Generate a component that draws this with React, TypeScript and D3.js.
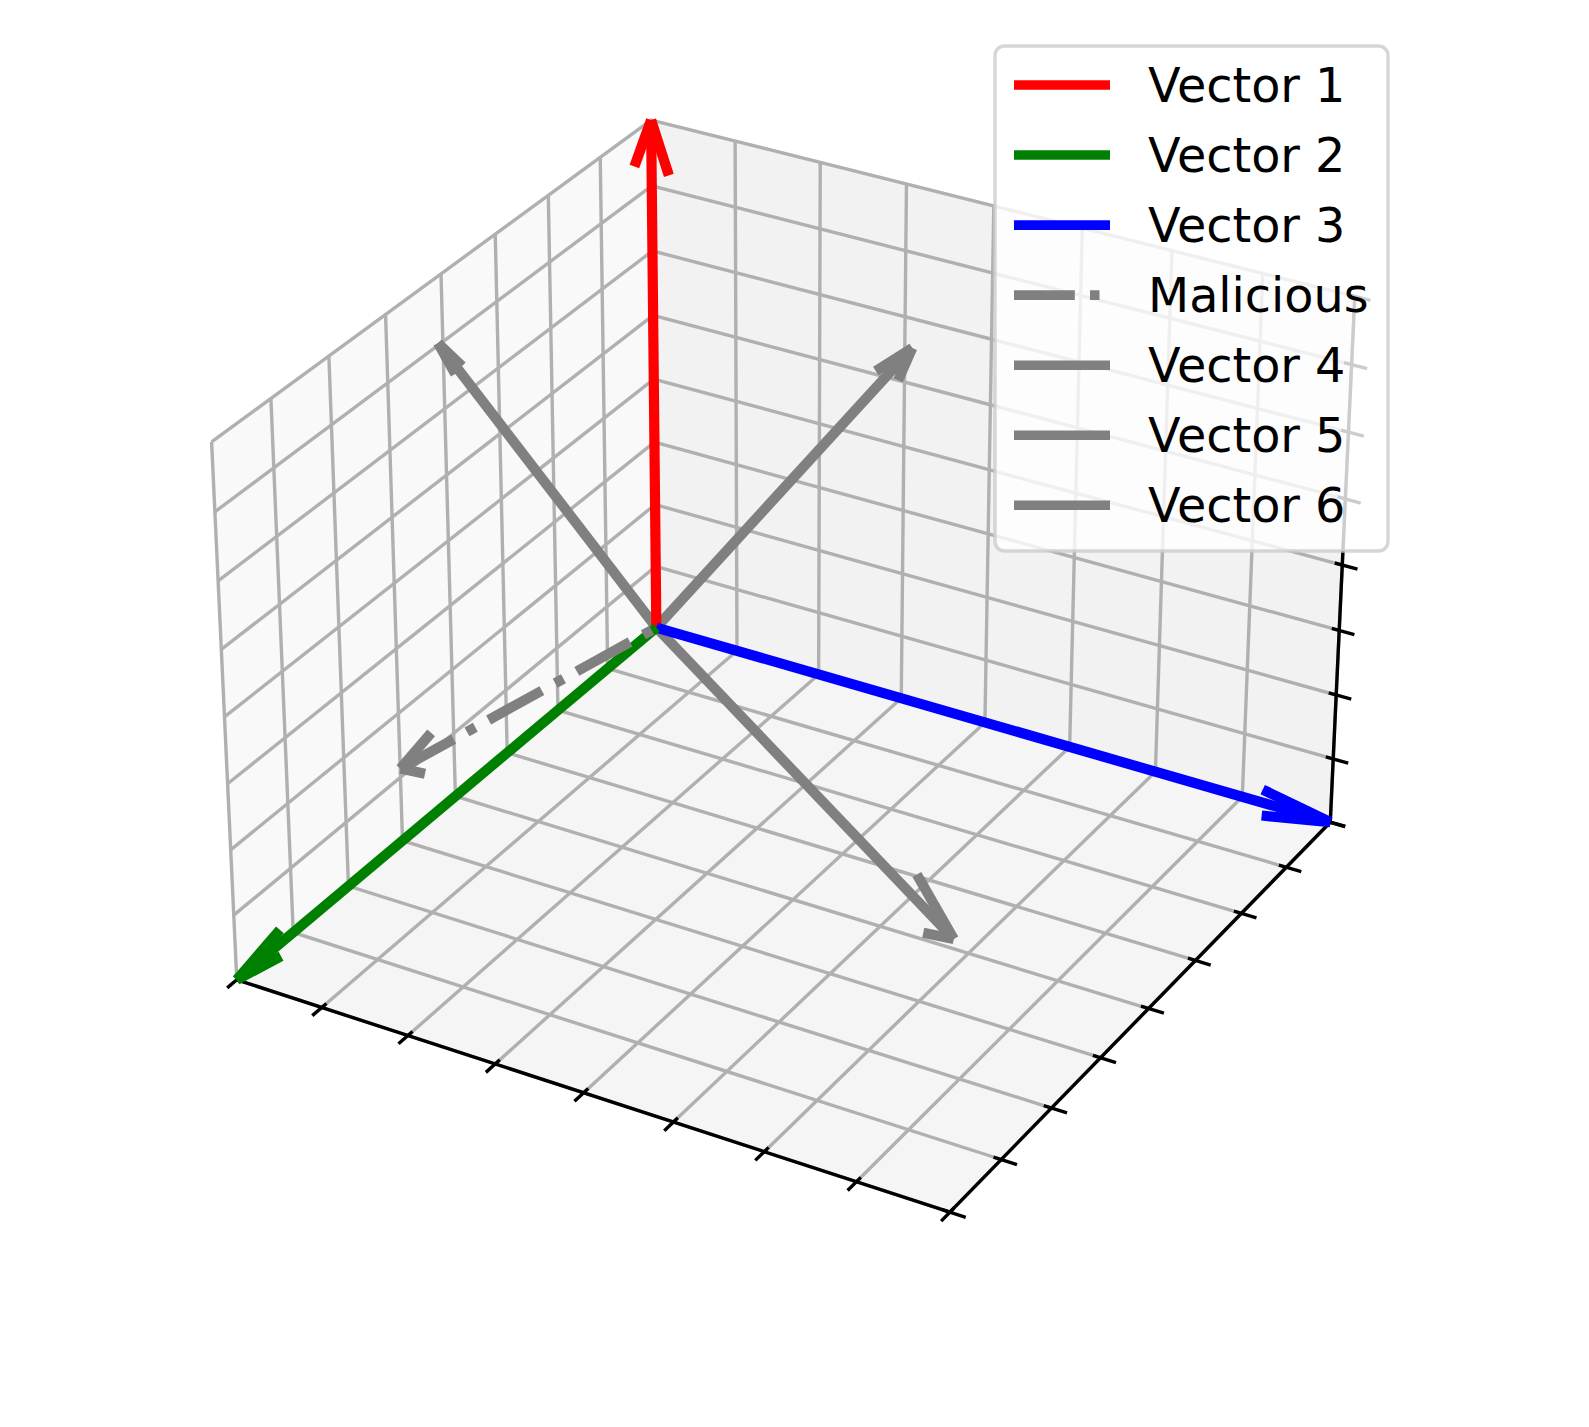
import React from "react";
import * as d3 from "d3";

const WIDTH = 1589;
const HEIGHT = 1427;

// Axis ticks shared by all three (normalised) axes
const xTicks = [0, 0.125, 0.25, 0.375, 0.5, 0.625, 0.75, 0.875, 1];
const yTicks = [0, 0.125, 0.25, 0.375, 0.5, 0.625, 0.75, 0.875, 1];
const zTicks = [0, 0.125, 0.25, 0.375, 0.5, 0.625, 0.75, 0.875, 1];

// Vector data (tip in 3D, all tails at origin)
const vectorNames = ["Vector 1", "Vector 2", "Vector 3", "Malicious", "Vector 4", "Vector 5", "Vector 6"];
const vectorX = [0, 0, 1, 0.269, -0.448, 0.297, 1.055];
const vectorY = [0, 1, 0, 1.026, -0.17, -0.161, 1.102];
const vectorZ = [1, 0, 0, 0.529, 0.314, 0.566, 0.6];
const vectorColors = ["#ff0000", "#008000", "#0000ff", "#808080", "#808080", "#808080", "#808080"];
const vectorDashed = [false, false, false, true, false, false, false];
const drawOrder = [4, 5, 6, 0, 2, 1, 3];

// Camera calibration: world cube corner -> image location
const cameraWorld: number[][] = [[0, 0, 0], [0, 0, 1], [0, 1, 0], [0, 1, 1], [1, 1, 0], [1, 0, 0], [1, 0, 1]];
const cameraImage: number[][] = [[656.7, 626.7], [650.8, 120.5], [236.6, 980.3], [211.7, 441.8], [950, 1211.7], [1330, 823], [1355, 296]];

function solve(A: number[][], b: number[]): number[] {
  const n = b.length;
  const M = A.map((r, i) => [...r, b[i]]);
  for (let c = 0; c < n; c++) {
    let p = c;
    for (let r = c + 1; r < n; r++) if (Math.abs(M[r][c]) > Math.abs(M[p][c])) p = r;
    [M[c], M[p]] = [M[p], M[c]];
    for (let r = 0; r < n; r++) {
      if (r === c) continue;
      const f = M[r][c] / M[c][c];
      for (let k = c; k <= n; k++) M[r][k] -= f * M[c][k];
    }
  }
  return M.map((r, i) => r[n] / r[i]);
}

function fitCamera(): number[] {
  const rows: number[][] = [];
  const rhs: number[] = [];
  cameraWorld.forEach(([x, y, z], i) => {
    const [u, v] = cameraImage[i];
    rows.push([x, y, z, 1, 0, 0, 0, 0, -u * x, -u * y, -u * z]);
    rhs.push(u);
    rows.push([0, 0, 0, 0, x, y, z, 1, -v * x, -v * y, -v * z]);
    rhs.push(v);
  });
  const AtA = d3.range(11).map((i) => d3.range(11).map((j) => d3.sum(rows, (r) => r[i] * r[j])));
  const Atb = d3.range(11).map((i) => d3.sum(rows, (r, k) => r[i] * rhs[k]));
  return solve(AtA, Atb);
}

const P = fitCamera();
type V3 = [number, number, number];
const project = ([x, y, z]: V3): [number, number] => {
  const w = P[8] * x + P[9] * y + P[10] * z + 1;
  return [(P[0] * x + P[1] * y + P[2] * z + P[3]) / w, (P[4] * x + P[5] * y + P[6] * z + P[7]) / w];
};
const line3 = (pts: V3[]) => d3.line()(pts.map(project)) as string;

const LW = 10.2;
const LEGEND_LW = 9.6;
const GRID = 3.4;
const grid = "#b0b0b0";
const dash = [6.4, 1.6, 1, 1.6].map((d) => d * 9.5).join(" ");
const HEAD_RATIO = 0.1;
const TICK_OUT = 0.021;
const TICK_IN = 0.0104;

// mplot3d style arrowhead: direction rotated by +-15 degrees in 3D
function headDirs(u: V3): [V3, V3] {
  const n = Math.hypot(u[0], u[1]);
  const xp = n ? u[1] / n : 0;
  const yp = n ? -u[0] / n : 1;
  const c = Math.cos((15 * Math.PI) / 180);
  const s = Math.sin((15 * Math.PI) / 180);
  const rot = (sg: number): V3 => [
    (c + xp * xp * (1 - c)) * u[0] + xp * yp * (1 - c) * u[1] + sg * yp * s * u[2],
    yp * xp * (1 - c) * u[0] + (c + yp * yp * (1 - c)) * u[1] - sg * xp * s * u[2],
    -sg * yp * s * u[0] + sg * xp * s * u[1] + c * u[2],
  ];
  return [rot(1), rot(-1)];
}

function Arrow({ i }: { i: number }) {
  const tip: V3 = [vectorX[i], vectorY[i], vectorZ[i]];
  const [a, b] = headDirs(tip);
  const end = (d: V3): V3 => [tip[0] - HEAD_RATIO * d[0], tip[1] - HEAD_RATIO * d[1], tip[2] - HEAD_RATIO * d[2]];
  const common = { stroke: vectorColors[i], strokeWidth: LW, fill: "none", strokeDasharray: vectorDashed[i] ? dash : undefined };
  return (
    <g>
      <path d={line3([tip, [0, 0, 0]])} {...common} />
      <path d={line3([tip, end(a)])} {...common} />
      <path d={line3([tip, end(b)])} {...common} />
    </g>
  );
}

export default function App() {
  const floor: V3[] = [[0, 0, 0], [1, 0, 0], [1, 1, 0], [0, 1, 0]];
  const leftWall: V3[] = [[0, 0, 0], [0, 1, 0], [0, 1, 1], [0, 0, 1]];
  const backWall: V3[] = [[0, 0, 0], [1, 0, 0], [1, 0, 1], [0, 0, 1]];
  const legendLeft = 995;
  const legendTop = 46;
  const rowY = (i: number) => 85 + i * 70.05;
  return (
    <svg width={WIDTH} height={HEIGHT} style={{ position: "absolute", left: 0, top: 0, background: "#fff" }}>
      <path d={line3(leftWall) + "Z"} fill="#f9f9f9" />
      <path d={line3(backWall) + "Z"} fill="#f2f2f2" />
      <path d={line3(floor) + "Z"} fill="#f5f5f5" />

      <g stroke={grid} strokeWidth={GRID} fill="none" strokeLinejoin="miter">
        {xTicks.map((t) => (
          <path key={"gx" + t} d={line3([[t, 1, 0], [t, 0, 0], [t, 0, 1]])} />
        ))}
        {yTicks.map((t) => (
          <path key={"gy" + t} d={line3([[1, t, 0], [0, t, 0], [0, t, 1]])} />
        ))}
        {zTicks.map((t) => (
          <path key={"gz" + t} d={line3([[0, 1, t], [0, 0, t], [1, 0, t]])} />
        ))}
      </g>

      <g stroke="#000" strokeWidth={GRID} fill="none">
        <path d={line3([[0, 1, 0], [1, 1, 0]])} />
        <path d={line3([[1, 1, 0], [1, 0, 0]])} />
        <path d={line3([[1, 0, 0], [1, 0, 1]])} />
        {xTicks.map((t) => (
          <path key={"tx" + t} d={line3([[t, 1 - TICK_IN, 0], [t, 1 + TICK_OUT, 0]])} />
        ))}
        {yTicks.map((t) => (
          <path key={"ty" + t} d={line3([[1 - TICK_IN, t, 0], [1 + TICK_OUT, t, 0]])} />
        ))}
        {zTicks.map((t) => (
          <path key={"tz" + t} d={line3([[1 - TICK_IN, 0, t], [1 + TICK_OUT, 0, t]])} />
        ))}
      </g>

      {drawOrder.map((i) => (
        <Arrow key={i} i={i} />
      ))}

      <rect x={legendLeft} y={legendTop} width={393} height={505} rx={9.5} fill="#fff" fillOpacity={0.8} stroke="#cccccc" strokeOpacity={0.8} strokeWidth={GRID} />
      {vectorNames.map((name, i) => (
        <g key={name}>
          <line x1={1014} x2={1110} y1={rowY(i)} y2={rowY(i)} stroke={vectorColors[i]} strokeWidth={LEGEND_LW} strokeDasharray={vectorDashed[i] ? dash : undefined} />
          <text x={1148} y={rowY(i) + 17} fontFamily="'DejaVu Sans'" fontSize={47.7} fill="#000">{name}</text>
        </g>
      ))}
    </svg>
  );
}
